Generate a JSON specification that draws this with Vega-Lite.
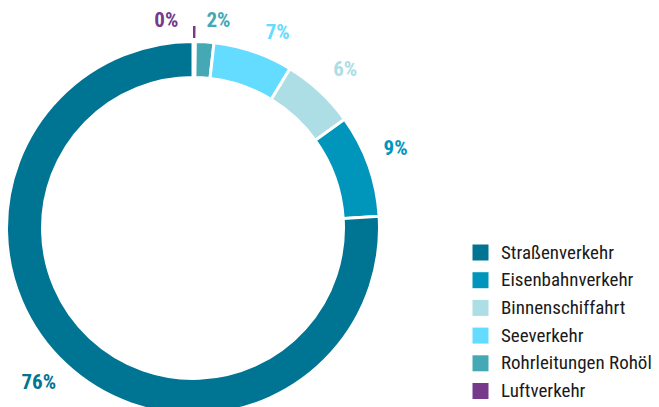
{
  "$schema": "https://vega.github.io/schema/vega-lite/v6.json",
  "width": 386,
  "height": 456,
  "autosize": {"type": "none"},
  "padding": {"left": 0, "top": 0, "right": 273, "bottom": 0},
  "background": "white",
  "config": {"view": {"stroke": null}, "font": "Roboto Condensed, Roboto"},
  "data": {"values": [
    {"Verkehrsträger": "Luftverkehr", "Anteil": 0.2, "Label": "0%", "Rang": 1},
    {"Verkehrsträger": "Rohrleitungen Rohöl", "Anteil": 1.6, "Label": "2%", "Rang": 2},
    {"Verkehrsträger": "Seeverkehr", "Anteil": 6.9, "Label": "7%", "Rang": 3},
    {"Verkehrsträger": "Binnenschiffahrt", "Anteil": 6.4, "Label": "6%", "Rang": 4},
    {"Verkehrsträger": "Eisenbahnverkehr", "Anteil": 8.9, "Label": "9%", "Rang": 5},
    {"Verkehrsträger": "Straßenverkehr", "Anteil": 76.0, "Label": "76%", "Rang": 6}
  ]},
  "encoding": {
    "theta": {"field": "Anteil", "type": "quantitative", "stack": true},
    "order": {"field": "Rang", "type": "quantitative"},
    "color": {
      "field": "Verkehrsträger",
      "type": "nominal",
      "scale": {
        "domain": ["Straßenverkehr", "Eisenbahnverkehr", "Binnenschiffahrt", "Seeverkehr", "Rohrleitungen Rohöl", "Luftverkehr"],
        "range": ["#007593", "#0096BC", "#ADDDE5", "#63DCFF", "#45A8B5", "#773A8A"]
      },
      "legend": {
        "title": null,
        "orient": "none",
        "legendX": 471,
        "legendY": 243,
        "symbolType": "square",
        "symbolSize": 256,
        "symbolStrokeWidth": 0,
        "symbolOpacity": 1,
        "labelFontSize": 19,
        "labelFont": "Roboto Condensed, Roboto",
        "labelColor": "#1a1a1a",
        "labelLimit": 300,
        "rowPadding": 7.7,
        "labelOffset": 11,
        "padding": 0
      }
    }
  },
  "layer": [
    {"mark": {"type": "arc", "outerRadius": 186.5, "innerRadius": 150.5, "stroke": "white", "strokeWidth": 3}},
    {
      "mark": {"type": "arc", "radius": 190, "radius2": 202},
      "encoding": {"opacity": {"condition": {"test": "datum.Rang == 1", "value": 1}, "value": 0}}
    },
    {
      "mark": {"type": "text", "radius": 215, "fontSize": 21, "fontWeight": "bold", "dx": -7, "dy": -2},
      "encoding": {"text": {"condition": {"test": "datum.Rang == 6", "field": "Label"}, "value": ""}}
    },
    {
      "mark": {"type": "text", "radius": 215, "fontSize": 21, "fontWeight": "bold", "dx": 0, "dy": -7},
      "encoding": {"text": {"condition": {"test": "datum.Rang == 5", "field": "Label"}, "value": ""}}
    },
    {
      "mark": {"type": "text", "radius": 215, "fontSize": 21, "fontWeight": "bold", "dx": 6, "dy": 0},
      "encoding": {"text": {"condition": {"test": "datum.Rang == 4", "field": "Label"}, "value": ""}}
    },
    {
      "mark": {"type": "text", "radius": 215, "fontSize": 21, "fontWeight": "bold", "dx": 15, "dy": 8},
      "encoding": {"text": {"condition": {"test": "datum.Rang == 3", "field": "Label"}, "value": ""}}
    },
    {
      "mark": {"type": "text", "radius": 215, "fontSize": 21, "fontWeight": "bold", "dx": 12, "dy": 8},
      "encoding": {"text": {"condition": {"test": "datum.Rang == 2", "field": "Label"}, "value": ""}}
    },
    {
      "mark": {"type": "text", "radius": 215, "fontSize": 21, "fontWeight": "bold", "dx": -28, "dy": 8},
      "encoding": {"text": {"condition": {"test": "datum.Rang == 1", "field": "Label"}, "value": ""}}
    }
  ]
}
